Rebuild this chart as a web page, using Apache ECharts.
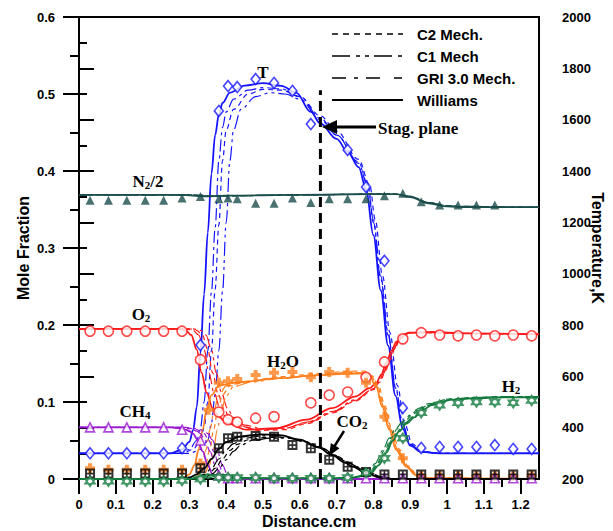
<!DOCTYPE html>
<html><head><meta charset="utf-8">
<script src="https://cdn.jsdelivr.net/npm/echarts@6/dist/echarts.min.js"></script>
<style>html,body{margin:0;padding:0;background:#fff}#c{width:613px;height:531px}</style>
</head><body><div id="c"></div>
<script>
// ---------- axis ticks ----------
const xMajor = [0,0.1,0.2,0.3,0.4,0.5,0.6,0.7,0.8,0.9,1,1.1,1.2];
const xMinor = [0.05,0.15,0.25,0.35,0.45,0.55,0.65,0.75,0.85,0.95,1.05,1.15];
const stagPlane = [[0.656,0],[0.656,0.505]];

// ---------- experimental data ----------
const T_exp = [[0.03,300],[0.08,300],[0.13,300],[0.18,300],[0.23,300],[0.28,320],[0.33,722],[0.38,1634],[0.405,1731],[0.43,1727],[0.48,1758],[0.53,1743],[0.58,1712],[0.63,1583],[0.73,1482],[0.78,1338],[0.83,1050],[0.88,477],[0.93,321],[0.98,325],[1.03,325],[1.08,325],[1.13,332],[1.18,317],[1.23,317]];
const N2_exp = [[0.03,0.362],[0.08,0.362],[0.13,0.362],[0.18,0.362],[0.23,0.362],[0.28,0.365],[0.33,0.367],[0.38,0.364],[0.405,0.365],[0.43,0.364],[0.48,0.358],[0.53,0.358],[0.58,0.365],[0.63,0.359],[0.68,0.364],[0.73,0.364],[0.78,0.364],[0.83,0.368],[0.88,0.371],[0.93,0.360],[0.98,0.356],[1.03,0.356],[1.08,0.356],[1.13,0.356]];
const O2_exp = [[0.03,0.192],[0.08,0.192],[0.13,0.192],[0.18,0.192],[0.23,0.192],[0.28,0.192],[0.33,0.155],[0.38,0.087],[0.405,0.077],[0.43,0.074],[0.48,0.079],[0.53,0.081],[0.63,0.099],[0.68,0.109],[0.73,0.113],[0.78,0.132],[0.83,0.152],[0.88,0.182],[0.93,0.190],[0.98,0.187],[1.03,0.186],[1.08,0.187],[1.13,0.186],[1.18,0.187],[1.23,0.186]];
const H2O_exp = [[0.03,0.014],[0.08,0.012],[0.13,0.012],[0.18,0.012],[0.23,0.012],[0.28,0.012],[0.33,0.020],[0.352,0.090],[0.38,0.125],[0.405,0.127],[0.43,0.130],[0.48,0.135],[0.53,0.138],[0.58,0.139],[0.63,0.132],[0.68,0.139],[0.73,0.138],[0.78,0.125],[0.83,0.081],[0.88,0.027],[0.93,0.004],[0.98,0.004],[1.03,0.004],[1.08,0.004],[1.13,0.004],[1.18,0.004],[1.23,0.005]];
const CH4_exp = [[0.03,0.067],[0.08,0.067],[0.13,0.067],[0.18,0.067],[0.23,0.067],[0.28,0.064],[0.33,0.050],[0.38,0.005],[0.405,0.001],[0.43,0.001],[0.48,0.001],[0.53,0.001],[0.58,0.001],[0.63,0.001],[0.68,0.001],[0.73,0.001],[0.78,0.001],[0.83,0.001],[0.88,0.001],[0.93,0.001],[0.98,0.001],[1.03,0.001],[1.08,0.001],[1.13,0.001],[1.18,0.001],[1.23,0.001]];
const CO2_exp = [[0.03,0.007],[0.08,0.007],[0.13,0.007],[0.18,0.007],[0.23,0.007],[0.28,0.007],[0.33,0.014],[0.38,0.040],[0.405,0.053],[0.43,0.055],[0.48,0.056],[0.53,0.055],[0.58,0.044],[0.63,0.040],[0.68,0.025],[0.73,0.016],[0.78,0.009],[0.83,0.006],[0.88,0.006],[0.93,0.006],[0.98,0.006],[1.03,0.006],[1.08,0.006],[1.13,0.006],[1.18,0.006],[1.23,0.006]];
const H2_exp = [[0.03,-0.003],[0.08,-0.003],[0.13,-0.003],[0.18,-0.003],[0.23,-0.003],[0.28,-0.002],[0.33,0.000],[0.38,0.002],[0.405,0.002],[0.43,0.002],[0.48,0.002],[0.53,0.001],[0.58,0.001],[0.63,0.001],[0.68,0.001],[0.73,0.002],[0.78,0.008],[0.83,0.027],[0.88,0.053],[0.93,0.086],[0.98,0.096],[1.03,0.099],[1.08,0.100],[1.13,0.100],[1.18,0.099],[1.23,0.102]];

// ---------- model curves: Williams / GRI 3.0 / C2 / C1 ----------
const T_W = [[0,300],[0.25,300],[0.28,315],[0.30,345],[0.31,390],[0.32,480],[0.33,690],[0.34,920],[0.35,1160],[0.36,1390],[0.37,1540],[0.38,1620],[0.39,1665],[0.41,1705],[0.45,1733],[0.50,1742],[0.55,1732],[0.59,1705],[0.63,1630],[0.656,1585],[0.70,1525],[0.73,1475],[0.76,1415],[0.78,1330],[0.80,1150],[0.82,935],[0.84,720],[0.86,525],[0.88,395],[0.90,330],[0.93,306],[0.98,300],[1.25,300]];
const T_GRI = [[0,300],[0.27,300],[0.30,315],[0.32,350],[0.33,400],[0.34,500],[0.35,700],[0.36,930],[0.37,1180],[0.38,1440],[0.39,1570],[0.40,1630],[0.42,1680],[0.46,1715],[0.50,1725],[0.55,1720],[0.60,1690],[0.656,1605],[0.70,1540],[0.76,1430],[0.785,1340],[0.80,1200],[0.82,980],[0.84,760],[0.86,555],[0.88,410],[0.90,335],[0.93,306],[0.98,300],[1.25,300]];
const T_C2 = [[0,300],[0.28,300],[0.31,315],[0.33,350],[0.34,400],[0.35,500],[0.36,700],[0.37,940],[0.38,1190],[0.39,1440],[0.40,1560],[0.42,1640],[0.46,1700],[0.50,1718],[0.55,1715],[0.60,1690],[0.656,1615],[0.70,1555],[0.76,1445],[0.79,1345],[0.805,1210],[0.825,990],[0.845,770],[0.865,565],[0.885,415],[0.905,338],[0.93,308],[0.98,300],[1.25,300]];
const T_C1 = [[0,300],[0.30,300],[0.33,315],[0.35,350],[0.36,420],[0.37,530],[0.38,700],[0.39,930],[0.40,1200],[0.41,1440],[0.42,1560],[0.44,1640],[0.48,1690],[0.52,1705],[0.56,1700],[0.60,1680],[0.656,1600],[0.70,1540],[0.76,1435],[0.785,1345],[0.80,1210],[0.82,990],[0.84,770],[0.86,560],[0.88,410],[0.90,335],[0.93,306],[0.98,300],[1.25,300]];

const N2_W = [[0,0.369],[0.28,0.369],[0.34,0.367],[0.40,0.368],[0.60,0.369],[0.80,0.370],[0.86,0.370],[0.90,0.366],[0.95,0.358],[1.0,0.354],[1.05,0.353],[1.25,0.353]];
const N2_GRI = [[0,0.369],[0.30,0.369],[0.36,0.367],[0.42,0.368],[0.60,0.369],[0.80,0.370],[0.86,0.370],[0.90,0.367],[0.95,0.359],[1.0,0.355],[1.05,0.353],[1.25,0.353]];
const N2_C2 = [[0,0.369],[0.31,0.369],[0.37,0.367],[0.43,0.368],[0.60,0.369],[0.80,0.370],[0.86,0.370],[0.90,0.367],[0.95,0.359],[1.0,0.355],[1.05,0.354],[1.25,0.353]];
const N2_C1 = [[0,0.369],[0.32,0.369],[0.38,0.367],[0.44,0.368],[0.60,0.369],[0.80,0.370],[0.86,0.370],[0.90,0.367],[0.95,0.359],[1.0,0.355],[1.05,0.354],[1.25,0.353]];

const O2_W = [[0,0.195],[0.27,0.195],[0.29,0.193],[0.305,0.187],[0.32,0.168],[0.333,0.138],[0.347,0.112],[0.363,0.092],[0.38,0.081],[0.40,0.073],[0.455,0.064],[0.537,0.066],[0.618,0.077],[0.688,0.092],[0.75,0.107],[0.79,0.118],[0.808,0.125],[0.822,0.136],[0.835,0.151],[0.85,0.167],[0.862,0.178],[0.88,0.187],[0.897,0.190],[0.96,0.191],[1.05,0.189],[1.25,0.188]];
const O2_GRI = [[0,0.195],[0.29,0.195],[0.31,0.193],[0.325,0.187],[0.34,0.168],[0.353,0.138],[0.367,0.112],[0.383,0.092],[0.40,0.080],[0.43,0.070],[0.48,0.064],[0.55,0.065],[0.62,0.073],[0.69,0.087],[0.75,0.102],[0.80,0.117],[0.815,0.126],[0.828,0.138],[0.84,0.152],[0.855,0.168],[0.868,0.179],[0.885,0.187],[0.90,0.190],[0.96,0.190],[1.05,0.189],[1.25,0.188]];
const O2_C2 = [[0,0.195],[0.30,0.195],[0.32,0.193],[0.335,0.187],[0.35,0.168],[0.363,0.138],[0.377,0.112],[0.393,0.092],[0.41,0.079],[0.44,0.069],[0.49,0.063],[0.56,0.064],[0.62,0.072],[0.69,0.086],[0.75,0.101],[0.80,0.116],[0.818,0.126],[0.832,0.139],[0.845,0.154],[0.858,0.169],[0.87,0.179],[0.887,0.187],[0.905,0.190],[0.96,0.190],[1.05,0.189],[1.25,0.188]];
const O2_C1 = [[0,0.195],[0.31,0.195],[0.33,0.193],[0.345,0.187],[0.36,0.168],[0.373,0.138],[0.387,0.112],[0.403,0.092],[0.42,0.080],[0.45,0.070],[0.50,0.065],[0.56,0.066],[0.62,0.074],[0.69,0.088],[0.75,0.103],[0.80,0.117],[0.815,0.126],[0.828,0.138],[0.84,0.152],[0.855,0.168],[0.868,0.179],[0.885,0.187],[0.90,0.190],[0.96,0.190],[1.05,0.189],[1.25,0.188]];

const H2O_W = [[0,0],[0.27,0],[0.28,0.001],[0.30,0.006],[0.314,0.018],[0.325,0.038],[0.336,0.064],[0.347,0.090],[0.36,0.109],[0.382,0.122],[0.436,0.126],[0.545,0.131],[0.653,0.135],[0.734,0.137],[0.77,0.137],[0.79,0.133],[0.808,0.119],[0.824,0.094],[0.843,0.064],[0.862,0.038],[0.889,0.016],[0.916,0.005],[0.95,0.001],[1.25,0]];
const H2O_GRI = [[0,0],[0.29,0],[0.30,0.001],[0.32,0.006],[0.334,0.018],[0.345,0.038],[0.356,0.064],[0.367,0.090],[0.38,0.109],[0.40,0.121],[0.45,0.126],[0.55,0.131],[0.653,0.135],[0.734,0.138],[0.775,0.138],[0.795,0.133],[0.812,0.119],[0.828,0.094],[0.847,0.064],[0.866,0.038],[0.892,0.016],[0.918,0.005],[0.95,0.001],[1.25,0]];
const H2O_C2 = [[0,0],[0.30,0],[0.31,0.001],[0.33,0.006],[0.344,0.018],[0.355,0.038],[0.366,0.064],[0.377,0.090],[0.39,0.109],[0.41,0.121],[0.46,0.127],[0.55,0.133],[0.653,0.137],[0.734,0.140],[0.775,0.140],[0.797,0.134],[0.815,0.120],[0.831,0.095],[0.85,0.065],[0.869,0.039],[0.895,0.017],[0.92,0.005],[0.95,0.001],[1.25,0]];
const H2O_C1 = [[0,0],[0.31,0],[0.32,0.001],[0.34,0.006],[0.354,0.018],[0.365,0.038],[0.376,0.064],[0.387,0.090],[0.40,0.108],[0.42,0.120],[0.47,0.126],[0.55,0.131],[0.653,0.135],[0.734,0.138],[0.775,0.138],[0.795,0.133],[0.812,0.119],[0.828,0.094],[0.847,0.064],[0.866,0.038],[0.892,0.016],[0.918,0.005],[0.95,0.001],[1.25,0]];

const CH4_W = [[0,0.067],[0.25,0.067],[0.27,0.066],[0.29,0.064],[0.30,0.062],[0.31,0.059],[0.322,0.051],[0.336,0.036],[0.35,0.018],[0.363,0.006],[0.38,0.001],[0.40,0],[1.25,0]];
const CH4_GRI = [[0,0.067],[0.27,0.067],[0.29,0.066],[0.31,0.064],[0.32,0.062],[0.33,0.059],[0.342,0.051],[0.356,0.036],[0.37,0.018],[0.383,0.006],[0.40,0.001],[0.42,0],[1.25,0]];
const CH4_C2 = [[0,0.067],[0.28,0.067],[0.30,0.066],[0.32,0.064],[0.33,0.062],[0.34,0.059],[0.352,0.051],[0.366,0.036],[0.38,0.018],[0.393,0.006],[0.41,0.001],[0.43,0],[1.25,0]];
const CH4_C1 = [[0,0.067],[0.29,0.067],[0.31,0.066],[0.33,0.064],[0.34,0.062],[0.35,0.059],[0.362,0.051],[0.376,0.036],[0.39,0.018],[0.403,0.006],[0.42,0.001],[0.44,0],[1.25,0]];

const CO2_W = [[0,0],[0.28,0],[0.30,0.002],[0.32,0.006],[0.341,0.014],[0.36,0.026],[0.38,0.039],[0.40,0.048],[0.436,0.055],[0.49,0.058],[0.545,0.057],[0.60,0.051],[0.65,0.041],[0.688,0.031],[0.72,0.022],[0.743,0.016],[0.78,0.008],[0.816,0.002],[0.85,0],[1.25,0]];
const CO2_GRI = [[0,0],[0.30,0],[0.32,0.002],[0.34,0.006],[0.361,0.014],[0.38,0.026],[0.40,0.038],[0.42,0.046],[0.45,0.053],[0.50,0.056],[0.55,0.056],[0.60,0.051],[0.65,0.042],[0.69,0.032],[0.72,0.024],[0.75,0.016],[0.785,0.008],[0.82,0.002],[0.86,0],[1.25,0]];
const CO2_C2 = [[0,0],[0.31,0],[0.33,0.002],[0.35,0.006],[0.371,0.014],[0.39,0.026],[0.41,0.037],[0.43,0.045],[0.46,0.051],[0.51,0.054],[0.56,0.054],[0.61,0.049],[0.66,0.040],[0.70,0.030],[0.73,0.022],[0.76,0.015],[0.79,0.008],[0.825,0.002],[0.86,0],[1.25,0]];
const CO2_C1 = [[0,0],[0.32,0],[0.34,0.002],[0.36,0.006],[0.381,0.014],[0.40,0.025],[0.42,0.036],[0.44,0.044],[0.47,0.050],[0.52,0.053],[0.57,0.053],[0.62,0.048],[0.66,0.040],[0.70,0.030],[0.73,0.022],[0.76,0.015],[0.79,0.008],[0.825,0.002],[0.86,0],[1.25,0]];

const H2_W = [[0,0],[0.30,0],[0.33,0.003],[0.35,0.006],[0.37,0.005],[0.40,0.002],[0.45,0.001],[0.70,0.001],[0.75,0.002],[0.775,0.004],[0.794,0.008],[0.815,0.018],[0.835,0.034],[0.853,0.050],[0.87,0.062],[0.89,0.072],[0.911,0.080],[0.935,0.090],[0.959,0.096],[1.014,0.103],[1.079,0.105],[1.15,0.106],[1.25,0.106]];
const H2_GRI = [[0,0],[0.32,0],[0.35,0.003],[0.37,0.006],[0.39,0.005],[0.42,0.002],[0.47,0.001],[0.70,0.001],[0.74,0.002],[0.765,0.004],[0.785,0.009],[0.805,0.020],[0.825,0.037],[0.843,0.053],[0.86,0.065],[0.88,0.075],[0.90,0.083],[0.925,0.092],[0.95,0.098],[1.01,0.104],[1.079,0.106],[1.15,0.107],[1.25,0.107]];
const H2_C2 = [[0,0],[0.33,0],[0.36,0.003],[0.38,0.007],[0.40,0.005],[0.43,0.002],[0.48,0.001],[0.70,0.001],[0.745,0.002],[0.77,0.004],[0.79,0.009],[0.81,0.020],[0.83,0.037],[0.848,0.053],[0.865,0.065],[0.885,0.075],[0.905,0.083],[0.93,0.092],[0.955,0.098],[1.01,0.104],[1.079,0.106],[1.15,0.107],[1.25,0.107]];
const H2_C1 = [[0,0],[0.34,0],[0.37,0.003],[0.39,0.006],[0.41,0.005],[0.44,0.002],[0.49,0.001],[0.70,0.001],[0.75,0.002],[0.772,0.004],[0.792,0.008],[0.812,0.019],[0.832,0.035],[0.85,0.051],[0.867,0.063],[0.887,0.073],[0.908,0.081],[0.932,0.091],[0.957,0.097],[1.012,0.103],[1.079,0.105],[1.15,0.106],[1.25,0.106]];

// ---------- styling ----------
const C = {T:'#1414ff', N2:'#1b4d4b', O2:'#ff1a1a', H2O:'#ff7f1e', CH4:'#9a1ad0', CO2:'#000000', H2:'#137a3d'};
const DASH = {W:'solid', GRI:[12,4,3,4], C2:[5,4], C1:[14,4,3,4,3,4]};
const SYM_PLUS = 'path://M3,0 H7 V3 H10 V7 H7 V10 H3 V7 H0 V3 H3 Z';
const SYM_BOX = 'path://M0,0 H10 V10 H0 Z M2,2 V4.2 H4.2 V2 Z M5.8,2 V4.2 H8 V2 Z M2,5.8 V8 H4.2 V5.8 Z M5.8,5.8 V8 H8 V5.8 Z';
const SYM_STAR = 'path://M0,-10 L8.66,5 L-8.66,5 Z M0,10 L-8.66,-5 L8.66,-5 Z';

const species = [
  {k:'T', axis:1, exp:T_exp, W:T_W, GRI:T_GRI, C2:T_C2, C1:T_C1, sym:'diamond', size:[9,11], hollow:true},
  {k:'N2', axis:0, exp:N2_exp, W:N2_W, GRI:N2_GRI, C2:N2_C2, C1:N2_C1, sym:'triangle', size:9, hollow:false},
  {k:'O2', axis:0, exp:O2_exp, W:O2_W, GRI:O2_GRI, C2:O2_C2, C1:O2_C1, sym:'circle', size:10, hollow:true},
  {k:'H2O', axis:0, exp:H2O_exp, W:H2O_W, GRI:H2O_GRI, C2:H2O_C2, C1:H2O_C1, sym:SYM_PLUS, size:10, hollow:false},
  {k:'CH4', axis:0, exp:CH4_exp, W:CH4_W, GRI:CH4_GRI, C2:CH4_C2, C1:CH4_C1, sym:'triangle', size:9, hollow:true},
  {k:'CO2', axis:0, exp:CO2_exp, W:CO2_W, GRI:CO2_GRI, C2:CO2_C2, C1:CO2_C1, sym:SYM_BOX, size:10, hollow:false},
  {k:'H2', axis:0, exp:H2_exp, W:H2_W, GRI:H2_GRI, C2:H2_C2, C1:H2_C1, sym:SYM_STAR, size:10, hollow:true}
];

const series = [];
species.forEach(s => {
  ['C1','C2','GRI','W'].forEach(m => {
    series.push({
      type:'line', name:s.k+' '+m, xAxisIndex:0, yAxisIndex:s.axis, data:s[m],
      showSymbol:false, smooth:0.35, smoothMonotone:'x', silent:true, z:2,
      lineStyle:{color:C[s.k], width: m==='W'?1.8:1.2, type:DASH[m]}
    });
  });
});
species.forEach(s => {
  series.push({
    type:'scatter', name:s.k+' exp', xAxisIndex:0, yAxisIndex:s.axis, data:s.exp,
    symbol:s.sym, symbolSize:s.size, clip:false, silent:true, z:5,
    itemStyle: s.hollow ? {color:'#ffffff', borderColor:C[s.k], borderWidth:1.6} : {color:C[s.k]}
  });
});
series.push({
  type:'line', name:'stag', xAxisIndex:0, yAxisIndex:0, data:stagPlane, showSymbol:false, silent:true, z:6,
  lineStyle:{color:'#000', width:3, type:[10,6]}
});

const labelFont = {fontFamily:'Liberation Sans, Arial', fontWeight:'bold', fontSize:13, color:'#000'};
const fmt = v => String(+v.toFixed(2));
const serif = 'bold 17px "Liberation Serif", "Times New Roman", serif';
const serifSub = 'bold 11px "Liberation Serif", "Times New Roman", serif';
function rt(x, y, parts){
  return {type:'text', x:x, y:y, z:20, style:{text:parts, align:'center', verticalAlign:'middle', fill:'#000',
    rich:{a:{font:serif, lineHeight:20, verticalAlign:'bottom'}, b:{font:serifSub, lineHeight:12, verticalAlign:'bottom'}}}};
}
const legendFont = 'bold 15px "Liberation Sans", Arial, sans-serif';
function legLine(y, dash, w){
  return {type:'line', z:20, shape:{x1:332,y1:y,x2:403,y2:y}, style:{stroke:'#000', lineWidth:w, lineDash:dash}};
}
function legText(y, t){
  return {type:'text', z:20, x:417, y:y, style:{text:t, font:legendFont, fill:'#000', verticalAlign:'middle'}};
}
const nameFont = {fontFamily:'Liberation Sans, Arial', fontWeight:'bold', fontSize:16, color:'#000'};

const option = {
  animation:false,
  backgroundColor:'#fff',
  grid:{left:79, right:74, top:17, bottom:52, outerBoundsMode:'none', containLabel:false, show:true, borderColor:'#000', borderWidth:2, backgroundColor:'transparent'},
  xAxis:[
    {type:'value', min:0, max:1.25, position:'bottom',
     name:'Distance.cm', nameLocation:'middle', nameGap:34, nameMoveOverlap:false,
     nameTextStyle:Object.assign({}, nameFont, {fontSize:16}),
     axisLine:{show:true, lineStyle:{color:'#000', width:2}},
     axisTick:{show:true, customValues:xMajor, length:15, lineStyle:{color:'#000', width:2}},
     axisLabel:Object.assign({customValues:xMajor, margin:19, formatter:fmt}, labelFont),
     splitLine:{show:false}},
    {type:'value', min:0, max:1.25, position:'bottom',
     axisLine:{show:false},
     axisTick:{show:true, customValues:xMinor, length:8, lineStyle:{color:'#000', width:2}},
     axisLabel:{show:false}, splitLine:{show:false}}
  ],
  yAxis:[
    {type:'value', min:0, max:0.6, interval:0.1, position:'left',
     name:'Mole Fraction', nameLocation:'middle', nameGap:48, nameRotate:90, nameMoveOverlap:false,
     nameTextStyle:nameFont,
     axisLine:{show:true, lineStyle:{color:'#000', width:2}},
     axisTick:{show:true, length:16, lineStyle:{color:'#000', width:2}},
     minorTick:{show:true, splitNumber:2, length:9, lineStyle:{color:'#000', width:2}},
     axisLabel:Object.assign({margin:24, formatter:fmt}, labelFont),
     splitLine:{show:false}},
    {type:'value', min:200, max:2000, interval:200, position:'right',
     name:'Temperature,K', nameLocation:'middle', nameGap:50, nameRotate:-90, nameMoveOverlap:false,
     nameTextStyle:nameFont,
     axisLine:{show:true, lineStyle:{color:'#000', width:2}},
     axisTick:{show:true, length:15, lineStyle:{color:'#000', width:2}},
     minorTick:{show:true, splitNumber:2, length:8, lineStyle:{color:'#000', width:2}},
     axisLabel:Object.assign({margin:23, formatter:v => String(v)}, labelFont),
     splitLine:{show:false}}
  ],
  series:series,
  graphic:[
    legLine(34,[6,5],1.5), legText(34,'C2 Mech.'),
    legLine(56,[18,6,4,5,4,5],1.5), legText(56,'C1 Mech'),
    legLine(78,[14,8,4,8,14],1.5), legText(78,'GRI 3.0 Mech.'),
    legLine(100,null,2), legText(100,'Williams'),
    rt(263,71,'{a|T}'),
    rt(148,180,'{a|N}{b|2}{a|/2}'),
    rt(141,313,'{a|O}{b|2}'),
    rt(283,360,'{a|H}{b|2}{a|O}'),
    rt(135,410,'{a|CH}{b|4}'),
    rt(352,420,'{a|CO}{b|2}'),
    rt(511,385,'{a|H}{b|2}'),
    {type:'text', x:378, y:128, z:20, style:{text:'Stag. plane', font:serif, fill:'#000', verticalAlign:'middle'}},
    {type:'line', z:20, shape:{x1:376,y1:127,x2:334,y2:127}, style:{stroke:'#000', lineWidth:3}},
    {type:'polygon', z:20, shape:{points:[[322,127],[337,120],[337,134]]}, style:{fill:'#000'}},
    {type:'line', z:20, shape:{x1:344,y1:431,x2:334,y2:447}, style:{stroke:'#000', lineWidth:2.5}},
    {type:'polygon', z:20, shape:{points:[[329,456],[339.5,448.3],[330.9,443.1]]}, style:{fill:'#000'}}
  ]
};
const chart = echarts.init(document.getElementById('c'), null, {renderer:'svg'});
chart.setOption(option);
</script></body></html>
